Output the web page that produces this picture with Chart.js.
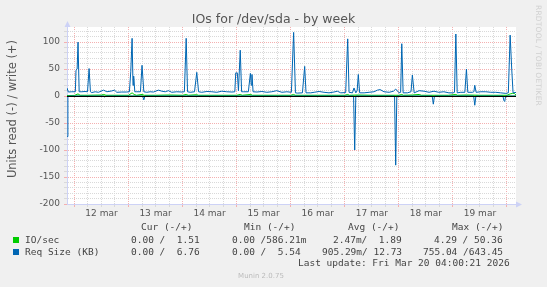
<!DOCTYPE html>
<html><head><meta charset="utf-8">
<script src="https://cdn.jsdelivr.net/npm/chart.js@4/dist/chart.umd.min.js"></script>
<style>
html,body{margin:0;padding:0;background:#f0f0f0;}
#wrap{position:relative;width:547px;height:287px;overflow:hidden;background:#f0f0f0;}
#c{position:absolute;left:0;top:0;}
.t{position:absolute;font-family:"DejaVu Sans Mono",monospace;font-size:9.5px;color:#444;white-space:pre;line-height:11px;}
.sw{position:absolute;width:6px;height:6px;}
#munin{position:absolute;left:0;width:522px;text-align:center;top:272px;font-family:"DejaVu Sans",sans-serif;font-size:7px;color:#bbb;}
#rrd{position:absolute;left:534px;top:5px;writing-mode:vertical-rl;font-family:"DejaVu Sans",sans-serif;font-size:7.5px;color:#d0d0d0;letter-spacing:0.2px;}
#ytitle{position:absolute;left:4px;top:38px;height:142px;width:16px;display:flex;align-items:center;justify-content:center;}
#ytitle span{writing-mode:vertical-rl;transform:rotate(180deg);font-family:"DejaVu Sans",sans-serif;font-size:11.5px;color:#555;white-space:nowrap;}
</style></head>
<body>
<div id="wrap">
<canvas id="c" width="547" height="287"></canvas>
<div id="ytitle"><span id="ytitleText"></span></div>
<div id="rrd">RRDTOOL / TOBI OETIKER</div>
<div class="t" style="left:141px;top:221px">Cur (-/+)</div>
<div class="t" style="left:244px;top:221px">Min (-/+)</div>
<div class="t" style="left:348px;top:221px">Avg (-/+)</div>
<div class="t" style="left:452px;top:221px">Max (-/+)</div>
<div class="sw" style="left:13px;top:237px;background:#00cc00"></div>
<div class="t" style="left:25px;top:234px">IO/sec</div>
<div class="t" style="left:131px;top:234px">0.00 /  1.51</div>
<div class="t" style="left:232px;top:234px">0.00 /586.21m</div>
<div class="t" style="left:333px;top:234px">2.47m/  1.89</div>
<div class="t" style="left:434px;top:234px">4.29 / 50.36</div>
<div class="sw" style="left:13px;top:249px;background:#0066b3"></div>
<div class="t" style="left:25px;top:246px">Req Size (KB)</div>
<div class="t" style="left:131px;top:246px">0.00 /  6.76</div>
<div class="t" style="left:232px;top:246px">0.00 /  5.54</div>
<div class="t" style="left:322px;top:246px">905.29m/ 12.73</div>
<div class="t" style="left:423px;top:246px">755.04 /643.45</div>
<div class="t" style="left:298px;top:257px">Last update: Fri Mar 20 04:00:21 2026</div>
<div id="munin">Munin 2.0.75</div>
</div>
<script>
// x values are hours since 12 mar 00:00
const TITLE = 'IOs for /dev/sda - by week';
const Y_TITLE = 'Units read (-) / write (+)';
const DAY_LABELS = ['12 mar','13 mar','14 mar','15 mar','16 mar','17 mar','18 mar','19 mar'];
const X_MIN = -3.3, X_MAX = 196;
const Y_MIN = -200, Y_MAX = 128;

// Req Size (KB), write (+)
const REQ_WRITE = [[-3.3,15],[-2.7,7.5],[-1.2,8],[0.4,8],[0.7,48],[1.2,50],[1.6,100],[2.1,8],[3.3,8],[4.7,8.5],[5.8,8],[6.5,51],[7.1,8],[7.7,6.5],[9.2,8],[10.7,7],[12.9,11],[14.4,8],[16.6,9.5],[17.8,11],[18.8,7],[21,7.5],[23.2,7.5],[24.4,8],[25,45],[25.6,107],[26,20],[26.3,37],[26.8,8],[27.7,8],[29.3,8],[30,57],[30.8,8],[32.1,7],[33.6,8],[35.1,7.5],[37.3,11],[38.8,9],[40.3,8],[41.7,10],[43.2,7],[45.4,8],[47.7,7.5],[48.8,8],[49.6,107],[50.2,8],[51.4,7],[53.3,8],[54.3,44],[55.1,8],[56.5,7],[58.8,8.5],[61,8],[63.2,7],[65.4,9],[67.6,8],[69.9,7.5],[71.2,8],[71.6,43],[72.3,43],[72.8,10],[73.6,85],[74.2,8],[75,8],[77.2,8],[78.1,42],[78.5,20],[78.8,40],[79.3,8],[81,7.5],[83.2,8.5],[85.4,7],[87.6,8],[89.8,10],[92.1,7],[94.3,8],[96.3,7],[97.3,118],[98.1,6],[99,5.5],[101.2,6],[102.2,55],[102.8,6],[104.9,6],[106.4,7],[108.6,8.5],[110.8,7],[113,6],[115.2,7.5],[116.7,9],[118.2,6],[120.4,6.5],[121.3,106],[121.9,7],[123.4,6],[124.1,15],[124.9,6],[125.5,10],[126,40],[126.6,6],[128.6,6],[130.8,7],[133,8],[134.5,11],[135.7,12],[137.4,8],[139.7,7],[141.6,9],[142.6,13],[144.1,6],[144.8,7],[145.3,97],[145.9,6],[147.8,6],[149.4,8],[150,39],[150.8,6],[153,10],[155.2,9],[157.4,7],[159.6,9],[161.7,7],[164,8],[166.2,6],[168.1,6],[168.7,7],[169.3,115],[169.9,6],[171.5,7],[173.3,7],[174,50],[174.6,7],[176.7,7],[177.3,8],[177.7,20],[178.3,7],[180.4,8],[182.6,8],[184.8,7],[187,7],[189.2,6],[191.5,5],[192.6,6],[193.4,113],[194.1,50],[194.7,6],[196,6.8]];
// Req Size (KB), read (-) stored as positive
const REQ_READ = [[-3.3,75],[-2.9,0],[13,0],[13.5,2],[14,0],[30.3,0],[30.8,7],[31.3,0],[123.9,0],[124.4,100],[124.9,0],[142.1,0],[142.6,128],[143.1,0],[158.8,0],[159.3,15],[159.8,0],[177.2,0],[177.7,17],[178.2,0],[190.2,0],[190.6,8],[191,10],[191.4,0],[196,0]];
// IO/sec, write (+)
const IO_WRITE = [[-3.3,1],[0,1.2],[1.6,4],[2.5,1.5],[6,1.5],[12,2],[13,3],[14,1.5],[18,1.5],[24,1.5],[25.6,6],[26.5,3],[27.5,1.5],[30,3],[31,1.5],[36,1.5],[42,2],[48,1.5],[49.6,3],[50.5,1.5],[54.3,2.5],[55,1.5],[60,1.5],[66,1.5],[72,1.5],[73.6,3],[74.5,1.5],[78.3,3],[79,1.5],[84,1.5],[90,1.5],[96,1.5],[97.3,3],[98,1.5],[102,1.5],[108,1.5],[114,1.5],[120,1.5],[121.3,3],[122,1.5],[126,2],[132,1.5],[138,1.5],[144,1.5],[145.3,3],[146,1.5],[150,2],[153,3],[154,1.5],[160,1.5],[166,1.5],[169.3,3],[170,1.5],[174,2],[180,1.5],[186,1.5],[192,1.5],[193.4,4],[194.5,5],[195.3,5],[196,1.5]];
// IO/sec, read (-) stored as positive
const IO_READ = [[-3.3,0],[48,0],[96,0],[144,0],[196,0]];

const GREEN = '#00cc00', BLUE = '#0066b3';
const GRID_MINOR = '#d9d9d9', GRID_MAJOR = '#f4b0b0', AXIS = '#cdd2f6';

document.getElementById('ytitleText').textContent = Y_TITLE;

const toPts = (arr, sign) => arr.map(([h, v]) => ({x: h, y: sign * v}));
const ds = (label, arr, sign, color, order) => ({
  label, data: toPts(arr, sign), borderColor: color, backgroundColor: color,
  borderWidth: 1, pointRadius: 0, tension: 0, fill: false, order
});

const decor = {
  id: 'decor',
  beforeDraw(chart) {
    const {ctx, chartArea: a} = chart;
    ctx.save();
    ctx.fillStyle = '#ffffff';
    ctx.fillRect(a.left, a.top, a.right - a.left, a.bottom - a.top);
    ctx.restore();
  },
  afterDatasetsDraw(chart) {
    const {ctx, chartArea: a, scales} = chart;
    const y0 = Math.round(scales.y.getPixelForValue(0)) + 0.5;
    ctx.save();
    ctx.strokeStyle = '#000000';
    ctx.lineWidth = 1;
    ctx.beginPath();
    ctx.moveTo(a.left, y0); ctx.lineTo(a.right, y0);
    ctx.stroke();
    // axis arrows
    ctx.fillStyle = AXIS;
    const lx = Math.round(a.left) + 0.5;
    ctx.beginPath();
    ctx.moveTo(lx - 3, a.top); ctx.lineTo(lx + 3, a.top); ctx.lineTo(lx, a.top - 6); ctx.closePath(); ctx.fill();
    ctx.fillRect(lx - 0.5, a.top - 1, 1, 2);
    const by = Math.round(a.bottom) + 0.5;
    ctx.beginPath();
    ctx.moveTo(a.right, by - 3); ctx.lineTo(a.right, by + 3); ctx.lineTo(a.right + 6, by); ctx.closePath(); ctx.fill();
    ctx.restore();
  }
};

new Chart(document.getElementById('c'), {
  type: 'line',
  data: { datasets: [
    ds('Req Size write', REQ_WRITE, 1, BLUE, 0),
    ds('Req Size read', REQ_READ, -1, BLUE, 1),
    ds('IO/sec write', IO_WRITE, 1, GREEN, 2),
    ds('IO/sec read', IO_READ, -1, GREEN, 3)
  ]},
  options: {
    responsive: false, animation: false, devicePixelRatio: 1,
    layout: { padding: { left: 0, right: 0, top: 0, bottom: 63 } },
    plugins: {
      legend: { display: false }, tooltip: { enabled: false },
      title: { display: true, text: TITLE, fullSize: true, color: '#555',
        font: { family: 'DejaVu Sans', size: 12.5, weight: 'normal', lineHeight: 1.2 },
        padding: { top: 12, bottom: 0 } }
    },
    scales: {
      x: {
        type: 'linear', min: X_MIN, max: X_MAX,
        afterBuildTicks(s) { const t = []; for (let v = 0; v <= X_MAX; v += 6) t.push({value: v}); s.ticks = t; },
        afterFit(s) { s.height = 20; },
        ticks: { autoSkip: false, maxRotation: 0, minRotation: 0, padding: 1, color: '#555',
          font: { family: 'DejaVu Sans', size: 9 },
          callback: v => (v % 24 === 12 ? DAY_LABELS[(v - 12) / 24] : '') },
        grid: { color: c => (c.tick && c.tick.value % 24 === 0 ? GRID_MAJOR : GRID_MINOR), lineWidth: 1,
          tickLength: 3, drawTicks: true },
        border: { display: true, color: AXIS, width: 1, dash: [1, 1] }
      },
      y: {
        min: Y_MIN, max: Y_MAX,
        afterBuildTicks(s) { const t = []; for (let v = Y_MIN; v <= 120; v += 10) t.push({value: v}); s.ticks = t; },
        afterFit(s) { s.width = 67; },
        ticks: { autoSkip: false, padding: 4, color: '#555', font: { family: 'DejaVu Sans', size: 9 },
          callback: v => (v % 50 === 0 ? String(v) : '') },
        grid: { color: c => (c.tick && c.tick.value % 50 === 0 ? GRID_MAJOR : GRID_MINOR), lineWidth: 1,
          tickLength: 3, drawTicks: true },
        border: { display: true, color: AXIS, width: 1, dash: [1, 1] }
      },
      yRight: {
        position: 'right', min: 0, max: 1, display: true,
        afterFit(s) { s.width = 31; },
        grid: { display: false, drawOnChartArea: false },
        ticks: { display: false },
        border: { display: false }
      }
    }
  },
  plugins: [decor]
});
</script>
</body></html>
